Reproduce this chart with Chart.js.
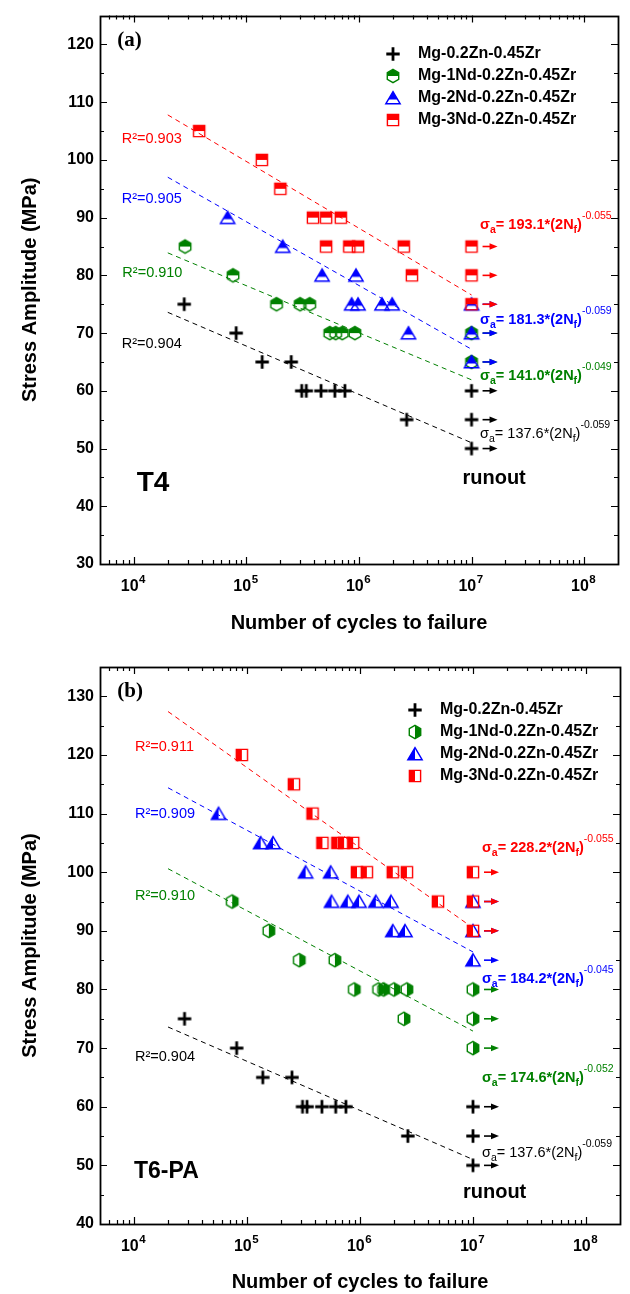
<!DOCTYPE html>
<html lang="en">
<head>
<meta charset="utf-8">
<title>S-N curves - Mg-Nd-0.2Zn-0.45Zr</title>
<script src="https://cdn.jsdelivr.net/npm/chart.js@4.4.1/dist/chart.umd.min.js"></script>
<style>
  html, body { margin: 0; padding: 0; background: #fff; }
  canvas { display: block; }
</style>
</head>
<body>
<canvas id="chart-t4" width="630" height="647"></canvas>
<canvas id="chart-t6" width="630" height="647"></canvas>
<script>
// ============================================================
// S-N curves: stress amplitude vs. number of cycles to failure
// (a) T4   (b) T6-PA
// ============================================================

const FONT  = '"Liberation Sans", Arial, Helvetica, sans-serif';
const SERIF = '"Liberation Serif", "Times New Roman", serif';

const ALLOYS = ['Mg-0.2Zn-0.45Zr', 'Mg-1Nd-0.2Zn-0.45Zr', 'Mg-2Nd-0.2Zn-0.45Zr', 'Mg-3Nd-0.2Zn-0.45Zr'];
const COLORS = ['#000000', '#008000', '#0000ff', '#ff0000'];

// x axis (log), labels are 10 with a superscript exponent
const X_MIN = 5e3;
const X_MAX = 2e8;
const X_DECADES   = [1e4, 1e5, 1e6, 1e7, 1e8];
const X_BASE      = '10';
const X_EXPONENTS = ['4', '5', '6', '7', '8'];
const RUNOUT      = 1e7;   // tests stopped here (arrows)

// y axis
const T4_Y_LABELS = [30, 40, 50, 60, 70, 80, 90, 100, 110, 120];
const T6_Y_LABELS = [40, 50, 60, 70, 80, 90, 100, 110, 120, 130];

// ---- (a) T4 ----
const t4ZrCycles  = [2.8e4, 8.1e4, 1.38e5, 2.5e5, 3.1e5, 3.4e5, 4.6e5, 6.1e5, 7.5e5, 2.65e6, 1e7, 1e7, 1e7];
const t4ZrStress  = [75, 70, 65, 65, 60, 60, 60, 60, 60, 55, 60, 55, 50];
const t4Nd1Cycles = [2.85e4, 7.6e4, 1.85e5, 3.0e5, 3.65e5, 5.5e5, 6.2e5, 7.1e5, 9.2e5, 1e7, 1e7];
const t4Nd1Stress = [85, 80, 75, 75, 75, 70, 70, 70, 70, 70, 65];
const t4Nd2Cycles = [6.8e4, 2.1e5, 4.7e5, 9.4e5, 8.6e5, 9.8e5, 1.6e6, 1.97e6, 2.75e6, 1e7, 1e7, 1e7];
const t4Nd2Stress = [90, 85, 80, 80, 75, 75, 75, 75, 70, 75, 70, 65];
const t4Nd3Cycles = [3.8e4, 1.37e5, 2.0e5, 3.9e5, 5.1e5, 6.9e5, 5.1e5, 8.2e5, 9.8e5, 2.5e6, 2.95e6, 1e7, 1e7, 1e7];
const t4Nd3Stress = [105, 100, 95, 90, 90, 90, 85, 85, 85, 85, 80, 85, 80, 75];

// ---- (b) T6-PA ----  (Mg-0.2Zn-0.45Zr is the same data set in both panels)
const t6ZrCycles  = [2.8e4, 8.1e4, 1.38e5, 2.5e5, 3.1e5, 3.4e5, 4.6e5, 6.1e5, 7.5e5, 2.65e6, 1e7, 1e7, 1e7];
const t6ZrStress  = [75, 70, 65, 65, 60, 60, 60, 60, 60, 55, 60, 55, 50];
const t6Nd1Cycles = [7.4e4, 1.56e5, 2.9e5, 6.0e5, 8.9e5, 1.46e6, 1.62e6, 2.0e6, 2.6e6, 2.45e6, 1e7, 1e7, 1e7];
const t6Nd1Stress = [95, 90, 85, 85, 80, 80, 80, 80, 80, 75, 80, 75, 70];
const t6Nd2Cycles = [5.6e4, 1.32e5, 1.7e5, 3.3e5, 5.5e5, 5.6e5, 7.8e5, 9.8e5, 1.38e6, 1.88e6, 1.95e6, 2.5e6, 1e7, 1e7, 1e7];
const t6Nd2Stress = [110, 105, 105, 100, 100, 95, 95, 95, 95, 95, 90, 90, 95, 90, 85];
const t6Nd3Cycles = [9.0e4, 2.6e5, 3.8e5, 4.65e5, 6.3e5, 7.2e5, 8.7e5, 9.4e5, 1.15e6, 1.95e6, 2.6e6, 4.9e6, 1e7, 1e7, 1e7];
const t6Nd3Stress = [120, 115, 110, 105, 105, 105, 105, 100, 100, 100, 100, 95, 100, 95, 90];

// fitted Basquin lines (dashed), read at both ends
const FIT_CYCLES  = [2e4, 1e7];
const t4FitStress = [[73.6, 51.0], [83.9, 61.9], [97.0, 67.2], [107.8, 76.6]];
const t6FitStress = [[73.6, 51.0], [100.6, 72.9], [114.4, 86.4], [127.4, 90.5]];
const t4R2   = ['0.904', '0.910', '0.905', '0.903'];
const t6R2   = ['0.904', '0.910', '0.909', '0.911'];
const t4Coef = ['137.6', '141.0', '181.3', '193.1'];
const t4Expo = ['-0.059', '-0.049', '-0.059', '-0.055'];
const t6Coef = ['137.6', '174.6', '184.2', '228.2'];
const t6Expo = ['-0.059', '-0.052', '-0.045', '-0.055'];

// ------------------------------------------------------------
// half-filled Origin style symbols
// ------------------------------------------------------------
function makeMarker(shape, color, half) {
  const c = document.createElement('canvas');
  c.width = 18; c.height = 18;
  const g = c.getContext('2d');
  const cx = 9, cy = 9;
  g.strokeStyle = color;
  g.fillStyle = color;

  if (shape === 'plus') {
    g.lineWidth = 2.8;
    g.beginPath();
    g.moveTo(cx - 6.7, cy); g.lineTo(cx + 6.7, cy);
    g.moveTo(cx, cy - 6.7); g.lineTo(cx, cy + 6.7);
    g.stroke();
    return c;
  }

  const path = () => {
    g.beginPath();
    if (shape === 'hex') {
      for (let k = 0; k < 6; k++) {
        const a = Math.PI / 180 * (60 * k - 90);
        const px = cx + 6.6 * Math.cos(a), py = cy + 6.6 * Math.sin(a);
        if (k) g.lineTo(px, py); else g.moveTo(px, py);
      }
      g.closePath();
    } else if (shape === 'tri') {
      g.moveTo(cx, cy - 6.4);
      g.lineTo(cx + 7.2, cy + 5.8);
      g.lineTo(cx - 7.2, cy + 5.8);
      g.closePath();
    } else {
      g.rect(cx - 5.6, cy - 5.6, 11.2, 11.2);
    }
  };

  g.save();
  g.beginPath();
  if (half === 'top') g.rect(0, 0, 18, shape === 'tri' ? cy + 1.6 : cy);
  else if (half === 'left') g.rect(0, 0, cx, 18);
  else g.rect(cx, 0, cx, 18);
  g.clip();
  path(); g.fill();
  g.restore();

  g.lineWidth = 1.4;
  path(); g.stroke();
  return c;
}

// ------------------------------------------------------------
// panels
// ------------------------------------------------------------
const PANELS = [
  {
    id: 'chart-t4', tag: '(a)', state: 'T4', stateSize: 28,
    yMin: 30, yMax: 125, yLabels: T4_Y_LABELS,
    padTop: 10, padRight: 12, xAxisH: 83, xTitlePad: 12,
    series: [[t4ZrCycles, t4ZrStress], [t4Nd1Cycles, t4Nd1Stress], [t4Nd2Cycles, t4Nd2Stress], [t4Nd3Cycles, t4Nd3Stress]],
    fits: t4FitStress, r2: t4R2, coef: t4Coef, expo: t4Expo,
    markers: [makeMarker('plus', COLORS[0]), makeMarker('hex', COLORS[1], 'top'),
              makeMarker('tri', COLORS[2], 'top'), makeMarker('square', COLORS[3], 'top')],
    // text anchors, in data units [cycles, MPa]
    r2At:   [[7.8e3, 68.1], [7.9e3, 80.4], [7.8e3, 93.3], [7.8e3, 103.6]],
    eqAt:   [[1.19e7, 51.8], [1.19e7, 61.9], [1.19e7, 71.6], [1.19e7, 88.0]],
    tagAt: [7.1e3, 119.7], stateAt: [1.06e4, 42.7], runoutAt: [8.3e6, 43.9],
    legend: { x: 393, y: 54, dy: 22 }
  },
  {
    id: 'chart-t6', tag: '(b)', state: 'T6-PA', stateSize: 23,
    yMin: 40, yMax: 135, yLabels: T6_Y_LABELS,
    padTop: 20, padRight: 10, xAxisH: 70, xTitlePad: 0,
    series: [[t6ZrCycles, t6ZrStress], [t6Nd1Cycles, t6Nd1Stress], [t6Nd2Cycles, t6Nd2Stress], [t6Nd3Cycles, t6Nd3Stress]],
    fits: t6FitStress, r2: t6R2, coef: t6Coef, expo: t6Expo,
    markers: [makeMarker('plus', COLORS[0]), makeMarker('hex', COLORS[1], 'right'),
              makeMarker('tri', COLORS[2], 'left'), makeMarker('square', COLORS[3], 'left')],
    r2At:   [[1.02e4, 68.5], [1.02e4, 95.9], [1.02e4, 109.9], [1.02e4, 121.3]],
    eqAt:   [[1.2e7, 51.4], [1.2e7, 64.2], [1.2e7, 81.1], [1.2e7, 103.4]],
    tagAt: [7.1e3, 129.9], stateAt: [1.0e4, 47.9], runoutAt: [8.15e6, 44.5],
    legend: { x: 415, y: 63, dy: 22 }
  }
];

// ------------------------------------------------------------
// drawing helpers
// ------------------------------------------------------------
function toPx(chart, pos) {
  return [chart.scales.x.getPixelForValue(pos[0]), chart.scales.y.getPixelForValue(pos[1])];
}

function drawEquation(ctx, x, yBase, coef, expo, color, bold) {
  const w = bold ? 'bold ' : '';
  const main = w + '14.5px ' + FONT;
  const sub  = w + '10.5px ' + FONT;
  const sup  = '10.5px ' + FONT;
  let cx = x;
  const put = (txt, font, dy) => {
    ctx.font = font;
    ctx.fillText(txt, cx, yBase + dy);
    cx += ctx.measureText(txt).width;
  };
  ctx.fillStyle = color;
  ctx.textAlign = 'left';
  ctx.textBaseline = 'alphabetic';
  put('σ', main, 0);
  put('a', sub, 4);
  put('= ' + coef + '*(2N', main, 0);
  put('f', sub, 4);
  put(')', main, 0);
  put(expo, sup, -10);
}

// decade labels 10^n under the x axis, placed with the log scale
function drawXLabels(chart) {
  const { ctx, chartArea: a, scales: { x } } = chart;
  ctx.save();
  ctx.fillStyle = '#000';
  ctx.textAlign = 'left';
  ctx.textBaseline = 'alphabetic';
  const base = a.bottom + 27;
  X_DECADES.forEach((v, i) => {
    ctx.font = 'bold 16px ' + FONT;
    const wb = ctx.measureText(X_BASE).width;
    ctx.font = 'bold 11.5px ' + FONT;
    const we = ctx.measureText(X_EXPONENTS[i]).width;
    const left = x.getPixelForValue(v) - 1 - (wb + we) / 2;
    ctx.font = 'bold 16px ' + FONT;
    ctx.fillText(X_BASE, left, base);
    ctx.font = 'bold 11.5px ' + FONT;
    ctx.fillText(X_EXPONENTS[i], left + wb + 0.5, base - 8);
  });
  ctx.restore();
}

// frame + inward ticks on all four sides, from the scales' own ticks
function drawFrame(chart, p) {
  const { ctx, chartArea: a, scales: { x, y } } = chart;
  ctx.save();
  ctx.strokeStyle = '#000';
  ctx.lineWidth = 1.2;
  ctx.beginPath();
  x.ticks.forEach(t => {
    const px = Math.round(x.getPixelForValue(t.value)) + 0.5;
    if (px <= a.left + 1 || px >= a.right - 1) return;
    const len = X_DECADES.includes(t.value) ? 7 : 4;
    ctx.moveTo(px, a.bottom); ctx.lineTo(px, a.bottom - len);
    ctx.moveTo(px, a.top);    ctx.lineTo(px, a.top + len);
  });
  y.ticks.forEach(t => {
    const py = Math.round(y.getPixelForValue(t.value)) + 0.5;
    if (py <= a.top + 1 || py >= a.bottom - 1) return;
    const len = p.yLabels.includes(t.value) ? 7 : 4;
    ctx.moveTo(a.left, py);  ctx.lineTo(a.left + len, py);
    ctx.moveTo(a.right, py); ctx.lineTo(a.right - len, py);
  });
  ctx.stroke();
  ctx.lineWidth = 1.8;
  ctx.strokeRect(Math.round(a.left) + 0.5, Math.round(a.top) + 0.5,
                 Math.round(a.right - a.left), Math.round(a.bottom - a.top));
  ctx.restore();
}

function decorPlugin(p) {
  return {
    id: 'decor',

    // runout arrows next to the 10^7 points
    afterDatasetsDraw(chart) {
      const { ctx, scales: { x, y } } = chart;
      ctx.save();
      ctx.lineWidth = 1.6;
      p.series.forEach(([cyc, str], i) => {
        ctx.strokeStyle = COLORS[i];
        ctx.fillStyle = COLORS[i];
        cyc.forEach((n, k) => {
          if (n !== RUNOUT) return;
          const px = x.getPixelForValue(n), py = y.getPixelForValue(str[k]);
          ctx.beginPath();
          ctx.moveTo(px + 11, py); ctx.lineTo(px + 20, py);
          ctx.stroke();
          ctx.beginPath();
          ctx.moveTo(px + 26, py); ctx.lineTo(px + 18, py - 3.2); ctx.lineTo(px + 18, py + 3.2);
          ctx.closePath();
          ctx.fill();
        });
      });
      ctx.restore();
    },

    afterDraw(chart) {
      const ctx = chart.ctx;
      drawFrame(chart, p);
      drawXLabels(chart);
      ctx.save();

      // R^2 labels
      ctx.textAlign = 'left';
      ctx.textBaseline = 'middle';
      ctx.font = '14.5px ' + FONT;
      p.r2.forEach((r, i) => {
        const [tx, ty] = toPx(chart, p.r2At[i]);
        ctx.fillStyle = COLORS[i];
        ctx.fillText('R²=' + r, tx, ty);
      });

      // Basquin equations
      p.coef.forEach((c, i) => {
        const [tx, ty] = toPx(chart, p.eqAt[i]);
        drawEquation(ctx, tx, ty, c, p.expo[i], COLORS[i], i > 0);
      });

      // panel tag, heat treatment, runout
      ctx.fillStyle = '#000';
      ctx.textBaseline = 'alphabetic';
      let [tx, ty] = toPx(chart, p.tagAt);
      ctx.font = 'bold 21px ' + SERIF;
      ctx.fillText(p.tag, tx, ty);
      [tx, ty] = toPx(chart, p.stateAt);
      ctx.font = 'bold ' + p.stateSize + 'px ' + FONT;
      ctx.fillText(p.state, tx, ty);
      [tx, ty] = toPx(chart, p.runoutAt);
      ctx.font = 'bold 20px ' + FONT;
      ctx.fillText('runout', tx, ty);

      // legend
      const L = p.legend;
      ctx.font = 'bold 16px ' + FONT;
      ctx.textBaseline = 'middle';
      ALLOYS.forEach((name, i) => {
        const ly = L.y + i * L.dy;
        const m = p.markers[i];
        ctx.drawImage(m, L.x - m.width / 2, ly - m.height / 2);
        ctx.fillStyle = '#000';
        ctx.fillText(name, L.x + 25, ly);
      });
      ctx.restore();
    }
  };
}

function buildChart(p) {
  const datasets = [];

  p.series.forEach(([cyc, str], i) => {
    datasets.push({
      label: ALLOYS[i],
      data: cyc.map((n, k) => ({ x: n, y: str[k] })),
      pointStyle: p.markers[i],
      pointRadius: 6,
      pointHoverRadius: 6,
      showLine: false,
      order: 10 - i
    });
  });

  p.fits.forEach((f, i) => {
    datasets.push({
      label: ALLOYS[i] + ' fit',
      data: FIT_CYCLES.map((n, k) => ({ x: n, y: f[k] })),
      showLine: true,
      borderColor: COLORS[i],
      borderWidth: 1,
      borderDash: [5, 4],
      pointRadius: 0,
      fill: false,
      order: 20
    });
  });

  return new Chart(document.getElementById(p.id), {
    type: 'scatter',
    data: { datasets },
    plugins: [decorPlugin(p)],
    options: {
      responsive: false,
      animation: false,
      devicePixelRatio: 1,
      layout: { padding: { top: p.padTop, right: p.padRight, left: 0, bottom: 0 } },
      plugins: {
        legend: { display: false },
        tooltip: { enabled: false }
      },
      scales: {
        x: {
          type: 'logarithmic',
          position: 'bottom',
          min: X_MIN,
          max: X_MAX,
          grid: { display: false, drawTicks: false },
          border: { display: false },
          afterBuildTicks: s => {
            const t = [];
            [X_DECADES[0] / 10].concat(X_DECADES).forEach(dec => {
              for (let d = 1; d < 10; d++) {
                const v = d * dec;
                if (v >= X_MIN && v <= X_MAX) t.push({ value: v });
              }
            });
            s.ticks = t;
          },
          afterFit: s => { s.height = p.xAxisH; },
          ticks: { display: false, autoSkip: false },
          title: {
            display: true,
            text: 'Number of cycles to failure',
            color: '#000',
            font: { size: 20, weight: 'bold' },
            padding: { top: 0, bottom: p.xTitlePad }
          }
        },
        y: {
          min: p.yMin,
          max: p.yMax,
          grid: { display: false, drawTicks: false },
          border: { display: false },
          afterBuildTicks: s => {
            const t = [];
            for (let v = p.yMin; v <= p.yMax; v += 5) t.push({ value: v });
            s.ticks = t;
          },
          afterFit: s => { s.width = 100; },
          ticks: {
            autoSkip: false,
            padding: 6,
            color: '#000',
            font: { size: 16, weight: 'bold' },
            callback: v => p.yLabels.includes(v) ? String(v) : ''
          },
          title: {
            display: true,
            text: 'Stress Amplitude (MPa)',
            color: '#000',
            font: { size: 20, weight: 'bold' },
            padding: { top: 18, bottom: 0 }
          }
        }
      }
    }
  });
}

Chart.defaults.font.family = FONT;
Chart.defaults.color = '#000';
PANELS.forEach(buildChart);
</script>
</body>
</html>
